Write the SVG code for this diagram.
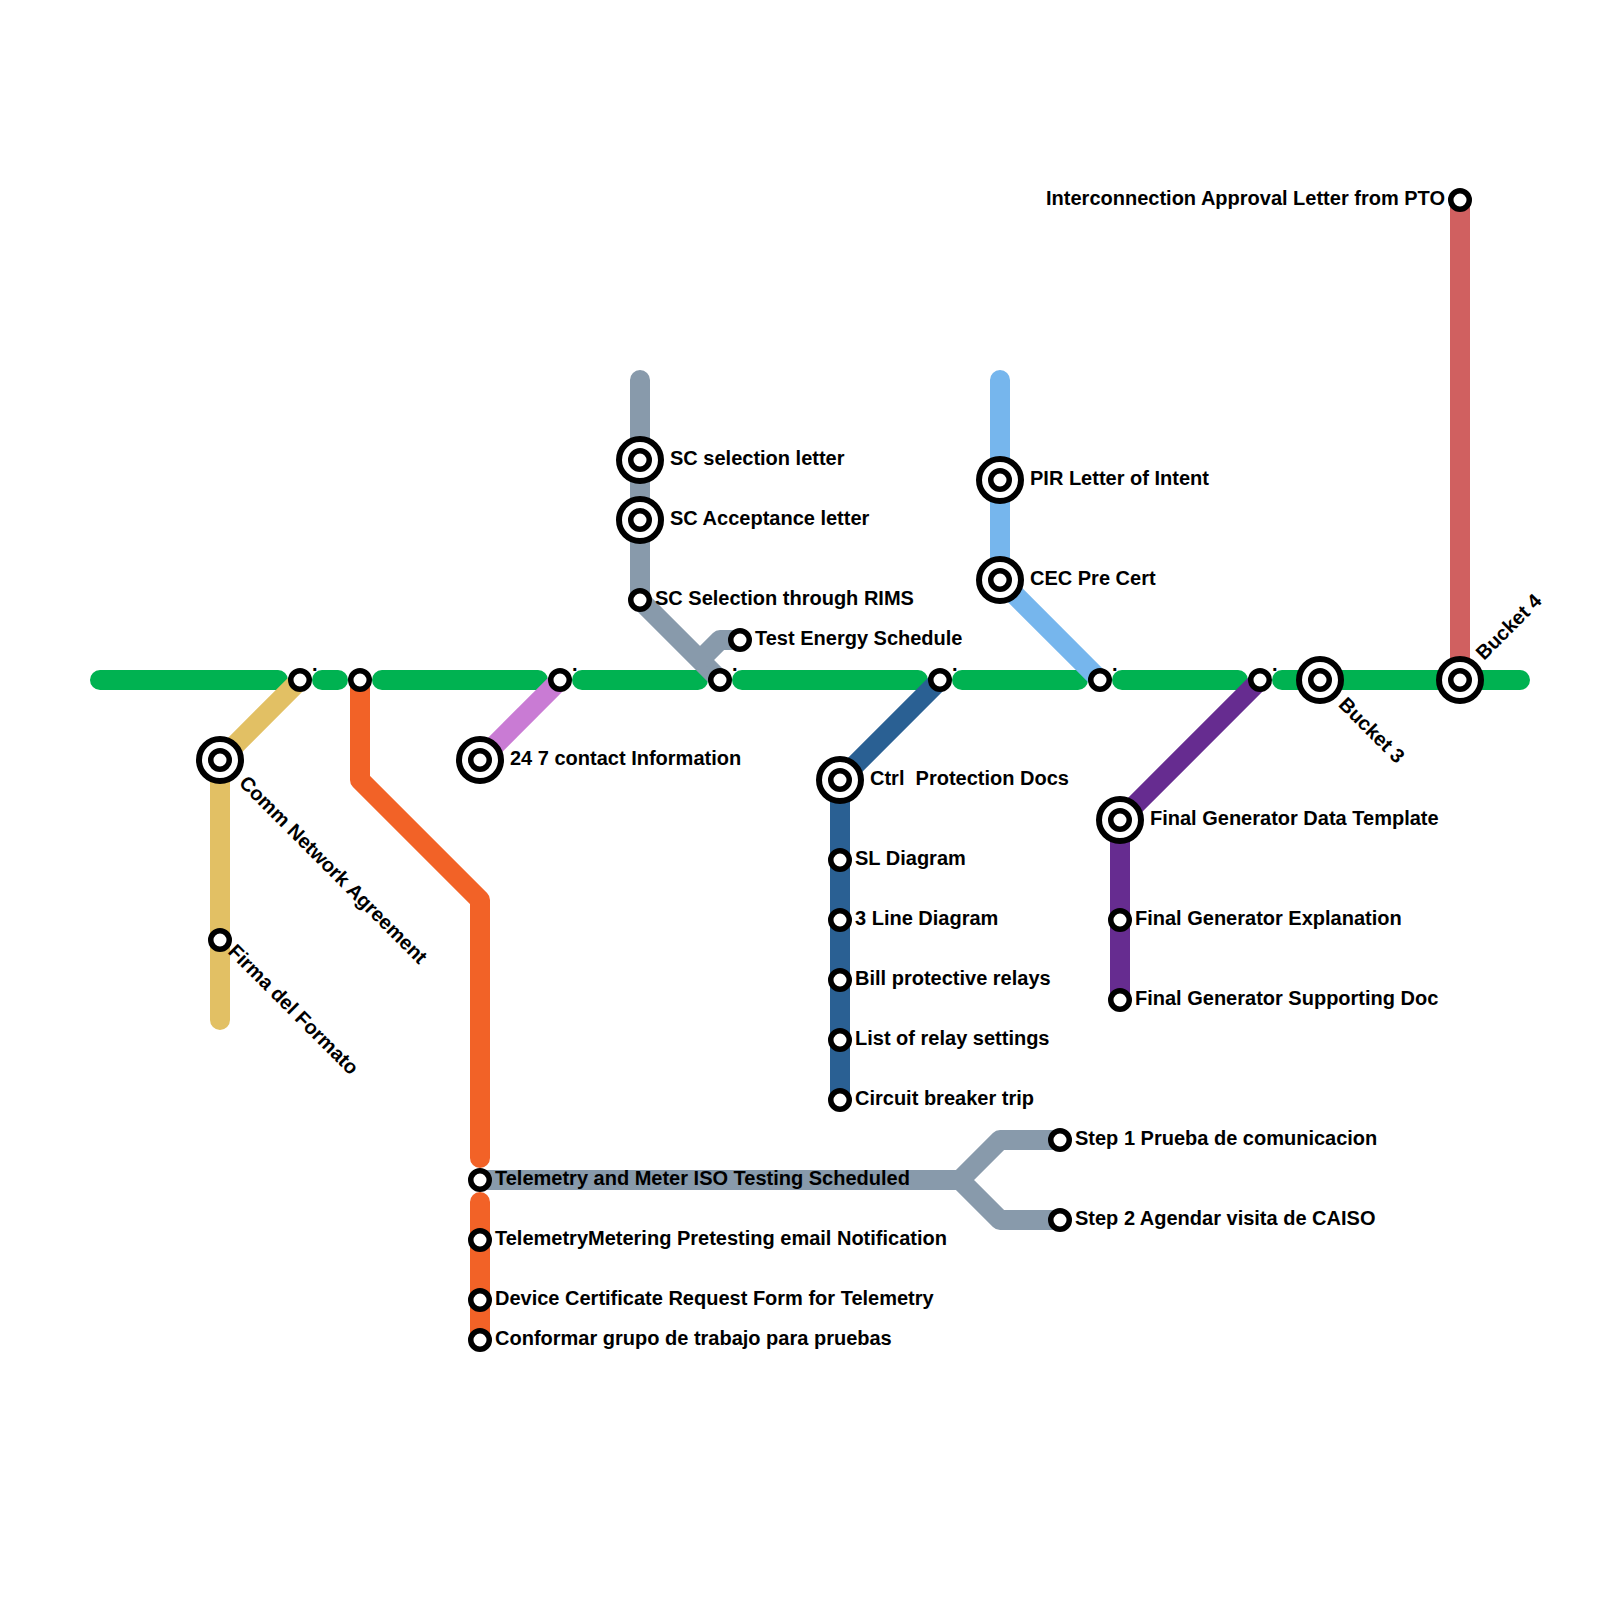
<svg xmlns="http://www.w3.org/2000/svg" width="1600" height="1600" viewBox="0 0 1600 1600">
<style>
.l{fill:none;stroke-width:20;stroke-linejoin:round;stroke-linecap:butt}
.r{stroke-linecap:round}
.s{fill:#fff;stroke:#000;stroke-width:5.5}
.o{fill:#fff;stroke:#000;stroke-width:6}
text{font-family:"Liberation Sans",Arial,sans-serif;font-weight:700;font-size:20px;fill:#000;white-space:pre}
</style>
<defs>
<g id="st"><circle class="s" r="9.25"/></g>
<g id="bg"><circle class="o" r="21"/><circle class="s" r="9.25"/></g>
</defs>
<g id="connectors">
<path class="l r" stroke="#00b251" d="M100 680H278M322 680H338M382 680H538M582 680H698M742 680H918M962 680H1078M1122 680H1238M1282 680H1520"/>
<path class="l" stroke="#d06060" d="M1460 200V680"/>
<path class="l r" stroke="#e2c064" d="M300 680L220 760V1020"/>
<path class="l r" stroke="#f26227" d="M360 680V780L480 900V1158M480 1202V1340"/>
<path class="l" stroke="#c97bd4" d="M560 680L480 760"/>
<path class="l r" stroke="#889aab" d="M640 380V600L720 680"/>
<path class="l" stroke="#889aab" d="M700 660L720 640H740"/>
<path class="l r" stroke="#76b6ed" d="M1000 380V580L1100 680"/>
<path class="l" stroke="#2a6093" d="M940 680L840 780V1100"/>
<path class="l" stroke="#662c90" d="M1260 680L1120 820V1000"/>
<path class="l" stroke="#889aab" d="M480 1180H960L1000 1140H1060M960 1180L1000 1220H1060"/>
</g>
<g id="n1"><use href="#st" x="300" y="680"/><text x="312" y="670.5">.</text></g>
<g id="n2"><use href="#st" x="360" y="680"/></g>
<g id="n3"><use href="#st" x="560" y="680"/><text x="572" y="670.5">.</text></g>
<g id="n4"><use href="#st" x="720" y="680"/><text x="732" y="670.5">.</text></g>
<g id="n5"><use href="#st" x="940" y="680"/><text x="952" y="670.5">.</text></g>
<g id="n6"><use href="#st" x="1100" y="680"/><text x="1112" y="670.5">.</text></g>
<g id="n7"><use href="#st" x="1260" y="680"/><text x="1272" y="670.5">.</text></g>
<g id="n8"><use href="#bg" x="1320" y="680"/><text transform="translate(1337.5 705.5) rotate(45)">Bucket 3</text></g>
<g id="n9"><use href="#bg" x="1460" y="680"/><text transform="translate(1484 661) rotate(-45)">Bucket 4</text></g>
<g id="n10"><use href="#st" x="1460" y="200"/><text x="1445" y="205" text-anchor="end">Interconnection Approval Letter from PTO</text></g>
<g id="n11"><use href="#bg" x="220" y="760"/><text transform="translate(238 784) rotate(45)">Comm Network Agreement</text></g>
<g id="n12"><use href="#st" x="220" y="940"/><text transform="translate(227 952.5) rotate(45)">Firma del Formato</text></g>
<g id="n13"><use href="#bg" x="480" y="760"/><text x="510" y="765">24 7 contact Information</text></g>
<g id="n14"><use href="#bg" x="640" y="460"/><text x="670" y="465">SC selection letter</text></g>
<g id="n15"><use href="#bg" x="640" y="520"/><text x="670" y="525">SC Acceptance letter</text></g>
<g id="n16"><use href="#st" x="640" y="600"/><text x="655" y="605">SC Selection through RIMS</text></g>
<g id="n17"><use href="#st" x="740" y="640"/><text x="755" y="645">Test Energy Schedule</text></g>
<g id="n18"><use href="#bg" x="1000" y="480"/><text x="1030" y="485">PIR Letter of Intent</text></g>
<g id="n19"><use href="#bg" x="1000" y="580"/><text x="1030" y="585">CEC Pre Cert</text></g>
<g id="n20"><use href="#bg" x="840" y="780"/><text x="870" y="785">Ctrl  Protection Docs</text></g>
<g id="n21"><use href="#st" x="840" y="860"/><text x="855" y="865">SL Diagram</text></g>
<g id="n22"><use href="#st" x="840" y="920"/><text x="855" y="925">3 Line Diagram</text></g>
<g id="n23"><use href="#st" x="840" y="980"/><text x="855" y="985">Bill protective relays</text></g>
<g id="n24"><use href="#st" x="840" y="1040"/><text x="855" y="1045">List of relay settings</text></g>
<g id="n25"><use href="#st" x="840" y="1100"/><text x="855" y="1105">Circuit breaker trip</text></g>
<g id="n26"><use href="#bg" x="1120" y="820"/><text x="1150" y="825">Final Generator Data Template</text></g>
<g id="n27"><use href="#st" x="1120" y="920"/><text x="1135" y="925">Final Generator Explanation</text></g>
<g id="n28"><use href="#st" x="1120" y="1000"/><text x="1135" y="1005">Final Generator Supporting Doc</text></g>
<g id="n29"><use href="#st" x="480" y="1180"/><text x="495" y="1185">Telemetry and Meter ISO Testing Scheduled</text></g>
<g id="n30"><use href="#st" x="480" y="1240"/><text x="495" y="1245">TelemetryMetering Pretesting email Notification</text></g>
<g id="n31"><use href="#st" x="480" y="1300"/><text x="495" y="1305">Device Certificate Request Form for Telemetry</text></g>
<g id="n32"><use href="#st" x="480" y="1340"/><text x="495" y="1345">Conformar grupo de trabajo para pruebas</text></g>
<g id="n33"><use href="#st" x="1060" y="1140"/><text x="1075" y="1145">Step 1 Prueba de comunicacion</text></g>
<g id="n34"><use href="#st" x="1060" y="1220"/><text x="1075" y="1225">Step 2 Agendar visita de CAISO</text></g>
</svg>
